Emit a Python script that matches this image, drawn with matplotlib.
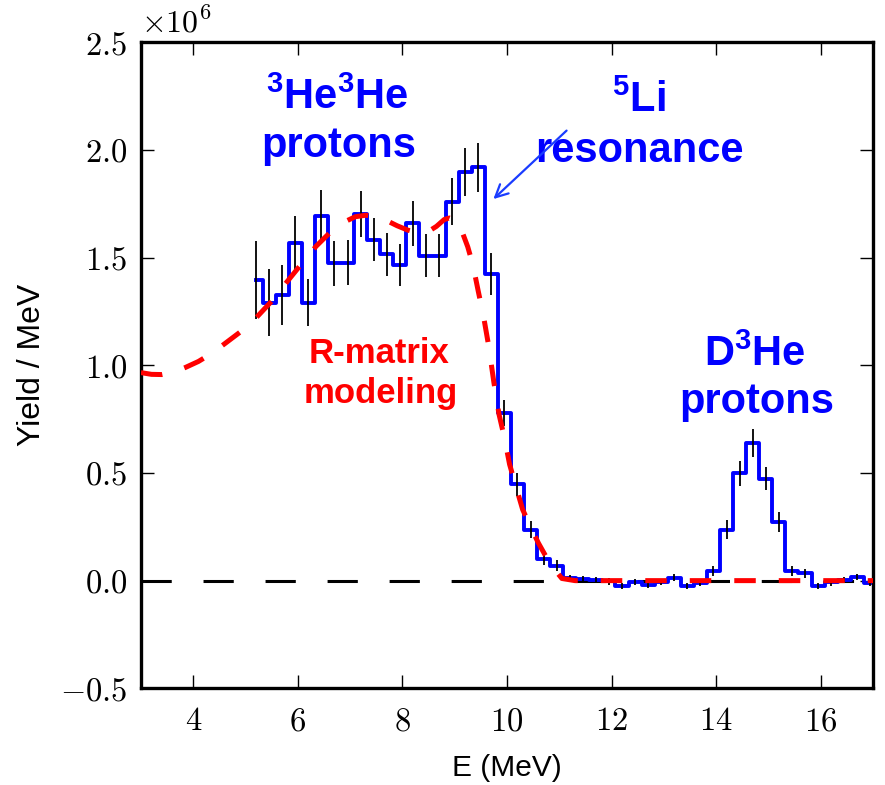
import numpy as np
import matplotlib
matplotlib.use("Agg")
import matplotlib.pyplot as plt
from matplotlib.ticker import MultipleLocator, FuncFormatter

plt.rcParams["mathtext.fontset"] = "cm"
plt.rcParams["mathtext.rm"] = "Liberation Sans:bold"
plt.rcParams["font.family"] = ["Liberation Sans", "DejaVu Sans"]

SCALE = 1e6

# Proton spectrum: bin centres (MeV), yield per MeV (units of 1e6) and errors
energy = np.round(np.arange(5.2, 17.0, 0.25), 3)
yield_m = [1.397, 1.291, 1.327, 1.566, 1.291, 1.695, 1.474, 1.477, 1.702, 1.583,
           1.516, 1.465, 1.659, 1.509, 1.509, 1.760, 1.896, 1.919, 1.423, 0.780,
           0.447, 0.237, 0.101, 0.070, 0.010, 0.006, 0.004, -0.004, -0.025, -0.006,
           -0.018, -0.006, 0.014, -0.024, -0.010, 0.045, 0.236, 0.499, 0.639, 0.473,
           0.274, 0.045, 0.034, -0.024, -0.008, 0.004, 0.018, -0.012]
err_m = [0.18, 0.155, 0.14, 0.127, 0.11, 0.12, 0.105, 0.105, 0.107, 0.10,
         0.10, 0.097, 0.106, 0.10, 0.10, 0.108, 0.112, 0.115, 0.097, 0.06,
         0.055, 0.04, 0.03, 0.025, 0.015, 0.015, 0.015, 0.015, 0.015, 0.015,
         0.015, 0.015, 0.015, 0.015, 0.015, 0.023, 0.044, 0.058, 0.066, 0.054,
         0.047, 0.023, 0.02, 0.015, 0.015, 0.015, 0.015, 0.015]

# R-matrix model curve (units of 1e6)
model_e = [3.0, 3.2, 3.4, 3.6, 3.85, 4.1, 4.35, 4.6, 4.9, 5.2, 5.5, 5.8, 6.05,
           6.35, 6.65, 6.9, 7.1, 7.3, 7.5, 7.7, 7.9, 8.1, 8.3, 8.5, 8.65, 8.8,
           8.9, 9.05, 9.15, 9.25, 9.35, 9.45, 9.55, 9.65, 9.75, 9.85, 9.95,
           10.05, 10.15, 10.3, 10.45, 10.6, 10.75, 10.9, 11.05, 11.3, 17.0]
model_y = [0.966, 0.958, 0.957, 0.966, 0.990, 1.018, 1.055, 1.100, 1.155, 1.220,
           1.298, 1.390, 1.465, 1.553, 1.625, 1.667, 1.690, 1.697, 1.690, 1.672,
           1.648, 1.628, 1.615, 1.622, 1.645, 1.677, 1.684, 1.670, 1.615, 1.550,
           1.465, 1.345, 1.230, 1.090, 0.920, 0.770, 0.665, 0.540, 0.455, 0.330,
           0.250, 0.175, 0.110, 0.055, 0.010, 0.0, 0.0]

fig = plt.figure(figsize=(8.85, 7.85), dpi=100)
ax = fig.add_axes([0.1593, 0.1232, 0.8271, 0.8229])

y = np.array(yield_m) * SCALE
ax.axhline(0, color="k", lw=2.2, dashes=(9.9, 10.4), zorder=1)
ax.plot(energy, y, drawstyle="steps-mid", color="#0000ff", lw=2.8, zorder=2)
ax.errorbar(energy, y, yerr=np.array(err_m) * SCALE, fmt="none",
            ecolor="k", elinewidth=1.3, capsize=0, zorder=2.5)
ax.plot(model_e, np.array(model_y) * SCALE, color="#ff0000", lw=3.6,
        dashes=(4.3, 4.6), zorder=3)

ax.set_xlim(3, 17)
ax.set_ylim(-0.5 * SCALE, 2.5 * SCALE)
ax.xaxis.set_major_locator(MultipleLocator(2))
ax.yaxis.set_major_locator(MultipleLocator(0.5 * SCALE))
ax.xaxis.set_major_formatter(FuncFormatter(lambda v, p: f"${v:.0f}$"))
ax.yaxis.set_major_formatter(FuncFormatter(lambda v, p: f"${v / SCALE:.1f}$"))
ax.text(0.0, 1.005, r"$\times10^{6}$", transform=ax.transAxes,
        ha="left", va="bottom", fontsize=23)

for s in ax.spines.values():
    s.set_linewidth(2.4)
ax.tick_params(which="both", direction="in", top=True, right=True,
               length=9.5, width=1.0, labelsize=23.5)
ax.tick_params(axis="x", pad=13)
ax.tick_params(axis="y", pad=10)

ax.set_xlabel("E (MeV)", fontsize=21.5, labelpad=12)
ax.set_ylabel("Yield / MeV", fontsize=23, labelpad=9)

blue_kw = dict(color="#0000ff", fontsize=30, fontweight="bold", ha="center",
               va="baseline", math_fontfamily="custom")
ax.text(6.76, 2.191 * SCALE, r"$^{3}$He$^{3}$He", **blue_kw)
ax.text(6.78, 1.966 * SCALE, "protons", **blue_kw)
ax.text(12.52, 2.175 * SCALE, r"$^{5}$Li", **blue_kw)
ax.text(12.53, 1.943 * SCALE, "resonance", **blue_kw)
ax.text(14.74, 0.997 * SCALE, r"D$^{3}$He", **blue_kw)
ax.text(14.77, 0.780 * SCALE, "protons", **blue_kw)

red_kw = dict(color="#ff0000", fontsize=25, fontweight="bold", ha="center",
              va="baseline")
ax.text(7.56, 1.013 * SCALE, "R-matrix", **red_kw)
ax.text(7.58, 0.827 * SCALE, "modeling", **red_kw)

ax.annotate("", xy=(9.74, 1.772 * SCALE), xytext=(11.14, 2.09 * SCALE),
            arrowprops=dict(arrowstyle="->,head_length=0.9,head_width=0.45",
                            color="#1a3cff", lw=1.6, shrinkA=0, shrinkB=0),
            zorder=5)

fig.savefig("out.png", dpi=100)
